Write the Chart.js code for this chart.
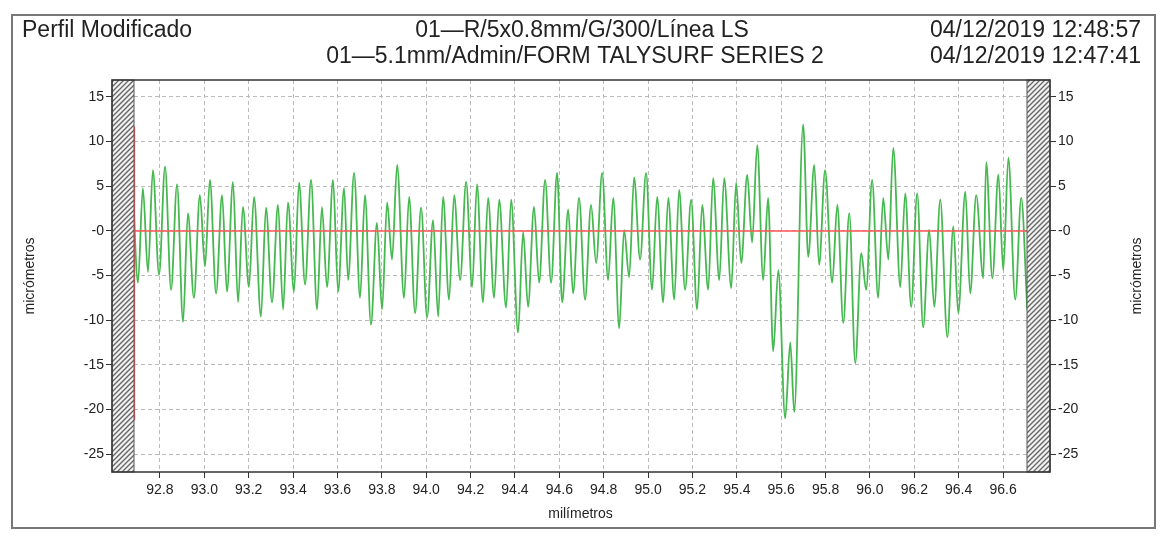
<!DOCTYPE html>
<html><head><meta charset="utf-8">
<script src="https://cdn.jsdelivr.net/npm/chart.js@4"></script>
<style>html,body{margin:0;padding:0;background:#fff}#w{width:1163px;height:540px}</style>
</head><body><div id="w"><canvas id="c"></canvas></div>
<script>
const profileX = [92.678,92.701,92.723,92.746,92.768,92.796,92.823,92.850,92.877,92.904,92.926,92.953,92.980,93.003,93.025,93.053,93.080,93.102,93.129,93.152,93.174,93.201,93.224,93.255,93.278,93.305,93.332,93.355,93.377,93.404,93.427,93.454,93.481,93.508,93.530,93.553,93.580,93.603,93.630,93.648,93.675,93.702,93.724,93.751,93.778,93.801,93.824,93.846,93.869,93.900,93.923,93.950,93.977,94.004,94.031,94.054,94.076,94.103,94.126,94.153,94.180,94.207,94.229,94.256,94.279,94.306,94.329,94.360,94.383,94.414,94.437,94.459,94.486,94.509,94.536,94.563,94.590,94.613,94.640,94.662,94.689,94.716,94.743,94.766,94.793,94.820,94.843,94.870,94.892,94.915,94.937,94.964,94.991,95.018,95.041,95.068,95.091,95.118,95.140,95.167,95.194,95.221,95.244,95.271,95.293,95.321,95.343,95.375,95.397,95.420,95.447,95.469,95.492,95.519,95.541,95.564,95.587,95.618,95.641,95.659,95.699,95.722,95.749,95.771,95.798,95.830,95.853,95.880,95.907,95.934,95.961,95.983,96.010,96.037,96.060,96.083,96.105,96.137,96.159,96.186,96.213,96.240,96.267,96.290,96.317,96.349,96.376,96.398,96.430,96.452,96.479,96.511,96.524,96.552,96.579,96.601,96.624,96.655,96.682,96.709];
const profileY = [4.6,-5.8,4.8,-4.6,6.8,-4.9,7.2,-6.6,5.2,-10.2,2.0,-7.5,4.0,-4.0,5.7,-7.0,4.0,-6.8,5.5,-8.0,2.7,-6.3,3.8,-9.6,2.6,-8.0,2.9,-8.8,3.2,-6.8,5.4,-6.0,5.7,-8.8,2.7,-6.3,5.7,-6.8,4.8,-5.5,6.5,-7.5,4.0,-10.5,0.9,-8.8,3.2,-3.2,7.4,-7.5,3.8,-9.2,2.6,-9.7,1.2,-9.6,3.8,-7.7,4.0,-5.5,5.5,-6.3,5.2,-8.0,3.7,-7.5,3.5,-8.6,3.5,-11.4,-0.1,-8.5,2.7,-5.8,5.7,-5.8,6.5,-8.0,2.4,-7.0,3.7,-7.7,2.9,-3.6,6.5,-5.5,3.7,-10.9,0.1,-5.2,6.0,-3.2,6.5,-6.6,3.8,-8.0,3.7,-7.7,4.6,-6.6,3.5,-8.8,2.9,-6.6,5.9,-5.5,5.9,-6.4,5.4,-3.6,6.3,-1.3,9.6,-5.5,3.7,-13.5,-4.4,-21.0,-12.5,-20.3,11.9,-2.9,7.4,-3.8,6.8,-5.8,2.9,-10.3,2.0,-14.8,-2.5,-6.6,5.7,-7.5,3.7,-3.2,9.3,-6.3,4.2,-8.5,4.2,-10.8,0.1,-8.5,3.5,-11.9,0.5,-9.2,4.4,-7.0,4.0,-5.3,7.7,-5.3,6.3,-4.4,8.2,-7.7,3.7,-8.8];
const xTicks = [92.8,93.0,93.2,93.4,93.6,93.8,94.0,94.2,94.4,94.6,94.8,95.0,95.2,95.4,95.6,95.8,96.0,96.2,96.4,96.6];
const yTicks = [-25,-20,-15,-10,-5,0,5,10,15];
const yTickLabels = ['-25','-20','-15','-10','-5','-0','5','10','15'];
const xRange = [92.683, 96.708];
const yRange = [-27, 16.9];
const datumLine = [11.7, -21.2];

const profile = profileX.map((x,i)=>({x, y: profileY[i]}));
const font = 'Liberation Sans, Arial, sans-serif';

const deco = {
  id:'deco',
  beforeDraw(ch){
    const c=ch.ctx, a=ch.chartArea;
    c.save();
    c.fillStyle='#fff'; c.fillRect(0,0,ch.width,ch.height);
    c.strokeStyle='#777'; c.lineWidth=2; c.strokeRect(12,15,1143,513);
    c.fillStyle='#222'; c.font='23px '+font; c.textBaseline='middle';
    c.textAlign='left'; c.fillText('Perfil Modificado',22,31);
    c.textAlign='center';
    c.fillText('01\u2014R/5x0.8mm/G/300/L\u00ednea LS',582,31);
    c.fillText('01\u20145.1mm/Admin/FORM TALYSURF SERIES 2',575,57);
    c.textAlign='right';
    c.fillText('04/12/2019 12:48:57',1141,31);
    c.fillText('04/12/2019 12:47:41',1141,57);
    c.font='14px '+font; c.textAlign='center';
    c.fillText('mil\u00edmetros',(a.left+a.right)/2,514);
    c.save(); c.translate(30,(a.top+a.bottom)/2); c.rotate(-Math.PI/2); c.fillText('micr\u00f3metros',0,0); c.restore();
    c.save(); c.translate(1137,(a.top+a.bottom)/2); c.rotate(-Math.PI/2); c.fillText('micr\u00f3metros',0,0); c.restore();
    c.restore();
  },
  afterDraw(ch){
    const c=ch.ctx,a=ch.chartArea;
    c.save();
    const hatch=(x0,w)=>{
      c.save(); c.beginPath(); c.rect(x0,a.top,w,a.bottom-a.top); c.clip();
      c.fillStyle='#f2f2f2'; c.fillRect(x0,a.top,w,a.bottom-a.top);
      c.strokeStyle='#666'; c.lineWidth=1.3;
      for(let y=a.top-40;y<a.bottom+40;y+=5){c.beginPath();c.moveTo(x0,y+w);c.lineTo(x0+w,y);c.stroke();}
      c.restore();
      c.strokeStyle='#555'; c.lineWidth=1; c.strokeRect(x0,a.top,w,a.bottom-a.top);
    };
    hatch(a.left-22,22); hatch(a.right,23);
    c.strokeStyle='#333'; c.lineWidth=1.5; c.strokeRect(a.left-22,a.top,a.right-a.left+45,a.bottom-a.top);
    c.restore();
  }
};

new Chart(document.getElementById('c'),{
  type:'line',
  data:{datasets:[
    {data:[{x:xRange[0],y:0},{x:xRange[1],y:0}],borderColor:'#ff5555',borderWidth:1.5,pointRadius:0,tension:0},
    {data:[{x:xRange[0]+0.002,y:datumLine[0]},{x:xRange[0]+0.002,y:datumLine[1]}],borderColor:'#ff5555',borderWidth:1.5,pointRadius:0,tension:0},
    {data:profile,borderColor:'#45b84f',borderWidth:1.8,pointRadius:0,cubicInterpolationMode:'monotone'}
  ]},
  options:{
    responsive:true,maintainAspectRatio:false,animation:false,
    plugins:{legend:{display:false},tooltip:{enabled:false}},
    layout:{padding:{top:80,left:0,right:0,bottom:0}},
    scales:{
      x:{type:'linear',min:xRange[0],max:xRange[1],
        afterBuildTicks:s=>{s.ticks=xTicks.map(v=>({value:v}));},
        afterFit:s=>{s.height=68;},
        grid:{color:'#bbb',tickColor:'#333',tickLength:6,drawTicks:true},
        border:{display:false,dash:[4,3]},
        ticks:{color:'#222',font:{family:font,size:14},maxRotation:0,padding:4,callback:v=>v.toFixed(1)}},
      y:{position:'left',min:yRange[0],max:yRange[1],
        afterBuildTicks:s=>{s.ticks=yTicks.map(v=>({value:v}));},
        afterFit:s=>{s.width=134;},
        grid:{color:'#bbb',tickColor:'#333',tickLength:28},
        border:{display:false,dash:[4,3]},
        ticks:{color:'#222',font:{family:font,size:14},padding:2,callback:v=>yTickLabels[yTicks.indexOf(v)]}},
      y2:{position:'right',min:yRange[0],max:yRange[1],
        afterBuildTicks:s=>{s.ticks=yTicks.map(v=>({value:v}));},
        afterFit:s=>{s.width=136;},
        grid:{drawOnChartArea:false,tickColor:'#333',tickLength:29},
        border:{display:false},
        ticks:{color:'#222',font:{family:font,size:14},padding:2,callback:v=>yTickLabels[yTicks.indexOf(v)]}}
    }
  },
  plugins:[deco]
});
</script></body></html>
